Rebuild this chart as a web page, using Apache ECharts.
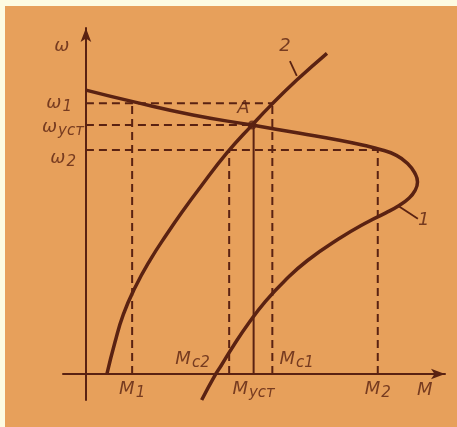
<!DOCTYPE html>
<html>
<head>
<meta charset="utf-8">
<script src="https://cdn.jsdelivr.net/npm/echarts@6/dist/echarts.min.js"></script>
<style>
  html, body { margin: 0; padding: 0; background: #fdfbe2; }
  #main { position: absolute; left: 5px; top: 6px; width: 452px; height: 421px; background: #e7a05b; }
</style>
</head>
<body>
<div id="main"></div>
<script>
// characteristic 1 (motor) and 2 (load), M vs ω
const motorCurve = [[0, 76.3], [12.3, 73.2], [28, 69.6], [43.5, 66.9], [56, 64.7], [66, 62.9], [73, 61.4],
  [77.5, 60.2], [81, 58.9], [84.2, 56.6], [86.2, 53.8], [86.8, 51.6], [86.1, 49.2], [84.4, 47.1],
  [82, 45.3], [78.5, 43.3], [74, 41], [66, 36.2], [58, 30.5], [52, 25], [47, 19.5], [42.5, 13.5],
  [38.5, 7.4], [35.5, 2.4], [34, 0], [30.3, -7]]
const loadCurve = [[5.5, 0], [7.6, 8.5], [9.8, 16], [12.8, 23.1], [16.8, 30.6], [21.2, 37.6], [25.5, 44],
  [29.8, 50], [36.9, 59.4], [43.5, 66.9], [48.2, 72], [55.2, 79], [63.1, 86.2]]

const wNames = ['1', 'уст', '2']
const wValues = [72.8, 66.9, 60.2]
const mNames = ['1', 'уст', '2']
const mValues = [12.1, 43.9, 76.4]
const mcNames = ['с2', 'с1']
const mcValues = [37.5, 48.8]
const pointA = [43.5, 66.9]

const ink = '#5a2212'
const font = 'DejaVu Sans'

const sub = (base, s) => '{m|' + base + '}{s|' + s + '}'
const rich = {
  m: { fontSize: 18, fontStyle: 'italic', fontFamily: font, color: ink },
  s: { fontSize: 15, fontStyle: 'italic', fontFamily: font, color: ink, padding: [8, 0, 0, 1] }
}

const seg = (a, b) => ({
  type: 'line', data: [a, b], symbol: 'none', silent: true,
  lineStyle: { color: ink, width: 2, type: [8, 5] }
})

// dashed guides from the ω levels to the curves, and down to the M axis
const guides = [
  seg([0, wValues[0]], [mcValues[1], wValues[0]]),
  seg([0, wValues[1]], [pointA[0], wValues[1]]),
  seg([0, wValues[2]], [mValues[2], wValues[2]]),
  seg([mValues[0], 0], [mValues[0], wValues[0]]),
  seg([mcValues[0], 0], [mcValues[0], wValues[2]]),
  seg([mcValues[1], 0], [mcValues[1], wValues[0]]),
  seg([mValues[2], 0], [mValues[2], wValues[2]])
]

// leader ticks for the curve numbers
const leaders = [
  [[53.4, 84.1], [55.2, 80.1]],
  [[81.7, 45.2], [86.9, 41.7]]
]

// hand placement of the ω labels (gap from axis, vertical shift)
const wLabelGap = [14, 2, 10]
const wLabelShift = [0, 2, 8]

const note = (x, y, text, pos, dist, off) => ({
  value: [x, y],
  label: { show: true, formatter: text, position: pos || 'inside', distance: dist || 0, offset: off || [0, 0], rich: rich }
})

const chart = echarts.init(document.getElementById('main'))
chart.setOption({
  animation: false,
  grid: { left: 58, right: 12, top: 22, bottom: 27 },
  xAxis: {
    type: 'value', min: -6, max: 94,
    splitLine: { show: false },
    axisTick: { show: false },
    axisLabel: { show: false },
    axisLine: { onZero: true, symbol: ['none', 'arrow'], symbolSize: [8, 14], lineStyle: { color: ink, width: 2 } }
  },
  yAxis: {
    type: 'value', min: -7, max: 93,
    splitLine: { show: false },
    axisTick: { show: false },
    axisLabel: { show: false },
    axisLine: { onZero: true, symbol: ['none', 'arrow'], symbolSize: [8, 14], lineStyle: { color: ink, width: 2 } }
  },
  series: [
    ...guides,
    {
      type: 'line', data: [[mValues[1], 0], [mValues[1], pointA[1]]], symbol: 'none', silent: true,
      lineStyle: { color: ink, width: 2 }
    },
    ...leaders.map(l => ({
      type: 'line', data: l, symbol: 'none', silent: true, lineStyle: { color: ink, width: 1.8 }
    })),
    {
      type: 'line', data: motorCurve, smooth: true, symbol: 'none', clip: false,
      lineStyle: { color: ink, width: 3.5 }
    },
    {
      type: 'line', data: loadCurve, smooth: true, symbol: 'none',
      lineStyle: { color: ink, width: 3.5 }
    },
    {
      type: 'scatter', data: [pointA], symbolSize: 9, itemStyle: { color: ink }
    },
    {
      type: 'scatter', symbolSize: 0, clip: false, silent: true,
      data: [
        note(-6.3, 88.2, '{m|ω}'),
        note(41.2, 71.3, '{m|A}'),
        note(52.1, 88.2, '{m|2}'),
        note(88.4, 41.2, '{m|1}'),
        note(88.7, -4.3, '{m|M}'),
        ...wValues.map((w, i) => note(0, w, sub('ω', wNames[i]), 'left', wLabelGap[i], [0, wLabelShift[i]])),
        ...mValues.map((m, i) => note(m, 0, sub('M', mNames[i]), 'bottom', 4)),
        note(mcValues[0] - 5.1, 4, sub('M', mcNames[0]), 'left', 0),
        note(mcValues[1] + 0.8, 4, sub('M', mcNames[1]), 'right', 4)
      ]
    }
  ]
})
</script>
</body>
</html>
